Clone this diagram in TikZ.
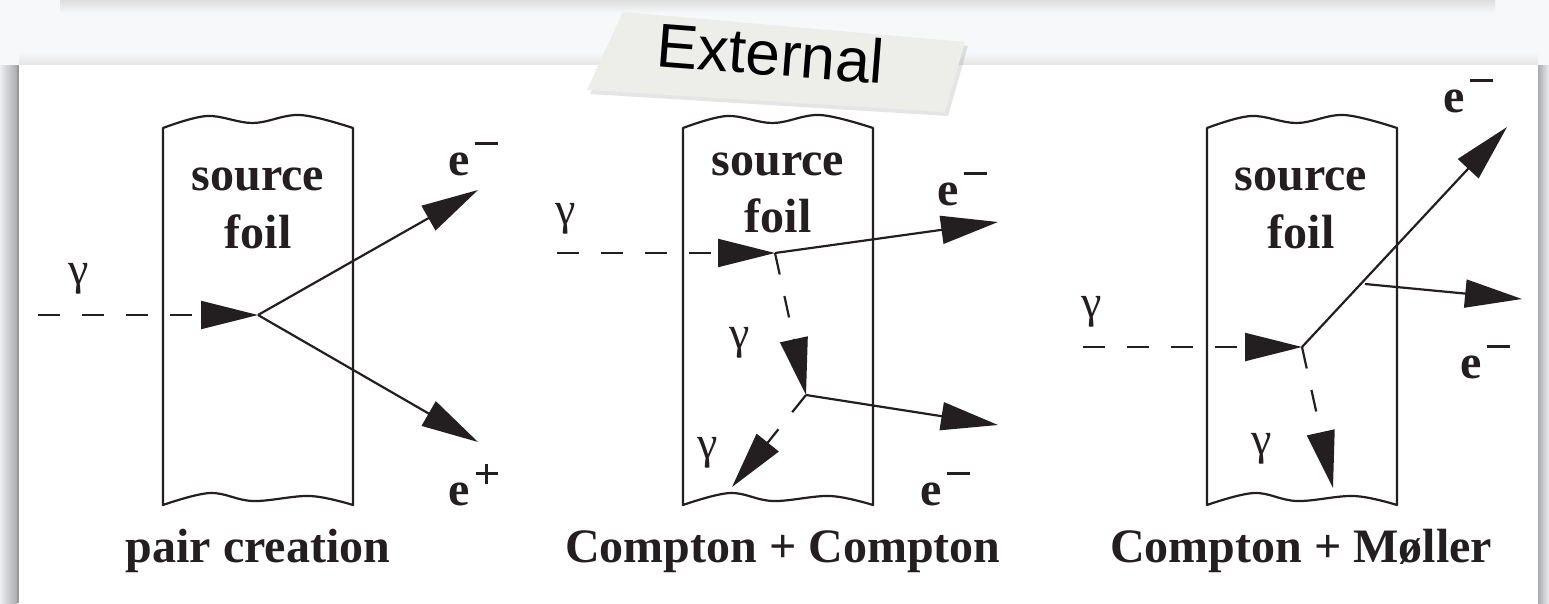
\documentclass[tikz,border=0pt]{standalone}
\usepackage{fontspec}
\setmainfont{Liberation Serif}
\newfontfamily\arialfont{Liberation Sans}
\usetikzlibrary{arrows.meta}
\definecolor{ink}{HTML}{231F20}
\definecolor{pagebg}{HTML}{F7F8FA}
\definecolor{tagfill}{HTML}{EDEDE9}
\definecolor{shadowdark}{HTML}{A9ABAE}
\definecolor{shadowlight}{HTML}{ECEEF0}
\newcommand{\eminus}{\textbf{e}\kern5pt\raisebox{30pt}{\rule{23pt}{2.8pt}}}
\newcommand{\eplus}{\textbf{e}\kern6pt\raisebox{30pt}{\rule{22pt}{2.6pt}}\kern-12.3pt\raisebox{21pt}{\rule{2.6pt}{20pt}}\kern9.7pt}
\tikzset{
  lbl/.style={font=\fontsize{48pt}{58pt}\selectfont\bfseries, text=ink, inner sep=0pt, anchor=base},
  gam/.style={font=\fontsize{46pt}{50pt}\selectfont, text=ink, inner sep=0pt, anchor=base},
  elab/.style={font=\fontsize{48pt}{58pt}\selectfont, text=ink, inner sep=0pt, anchor=base west},
  foilline/.style={draw=ink, line width=2.2pt, line join=round},
  particle/.style={draw=ink, line width=2.2pt, -{Triangle[length=57pt,width=28pt]}},
  photon/.style={particle, dash pattern=on 22pt off 22pt},
  foilpic/.pic={
    \draw[foilline] (0,0) -- (0,377)
      -- plot[smooth, tension=0.6] coordinates {(0,377) (47,365) (90,373) (147,368) (190,377)}
      -- (190,0)
      -- plot[smooth, tension=0.6] coordinates {(190,0) (137,-13) (90,-5) (44,-12) (0,0)}
      -- cycle;
  }
}
\begin{document}
\begin{tikzpicture}[x=1pt,y=-1pt]
\useasboundingbox (0,0) rectangle (1549,603);
% page background and card shadows
\fill[pagebg] (0,0) rectangle (1549,603);
\shade[top color=black!13, bottom color=pagebg] (60,0) rectangle (1495,13);
\shade[top color=pagebg, bottom color=black!10] (19,52) rectangle (1538,65);
\shade[left color=shadowlight, right color=shadowdark] (0,65) rectangle (17,603);
\fill[black!40] (17,65) rectangle (19,603);
\shade[left color=shadowdark, right color=shadowlight] (1538,65) rectangle (1549,603);
\fill[white] (19,65) rectangle (1538,603);
% tag
\fill[black, opacity=0.10] (626,16) -- (968,46) -- (948,116) -- (590,94) -- cycle;
\fill[tagfill] (623,12) -- (965,42) -- (945,112) -- (587,90) -- cycle;
\node[font=\arialfont\fontsize{62pt}{62pt}\selectfont, text=black, inner sep=0pt, anchor=base, rotate=-4.5] (ext) at (769,75) {External};

% ---------- panel 1: pair creation ----------
\pic at (163,128) {foilpic};
\node[lbl] (src1) at (258,190) {source};
\node[lbl] (foil1) at (258,248) {foil};
\node[lbl] (cap1) at (258,562) {pair creation};
\coordinate (g1s) at (38,315);
\coordinate (v1) at (258,315);
\coordinate (e1a) at (478,190);
\coordinate (e1b) at (478,442);
\draw[photon] (g1s) -- (v1);
\draw[particle] (v1) -- (e1a);
\draw[particle] (v1) -- (e1b);
\node[gam] (gam1) at (79,284) {γ};
\node[elab] (em1) at (448,175) {\eminus};
\node[elab] (ep1) at (448,505) {\eplus};

% ---------- panel 2: Compton + Compton ----------
\pic at (683,128) {foilpic};
\node[lbl] (src2) at (778,175) {source};
\node[lbl] (foil2) at (778,232) {foil};
\node[lbl] (cap2) at (783,562) {Compton + Compton};
\coordinate (g2s) at (557,253);
\coordinate (v2) at (775,253);
\coordinate (e2a) at (998,222);
\coordinate (v3) at (806,395);
\coordinate (e2b) at (998,425);
\coordinate (g2e) at (732,487);
\draw[photon] (g2s) -- (v2);
\draw[particle] (v2) -- (e2a);
\draw[photon] (v2) -- (v3);
\draw[particle] (v3) -- (e2b);
\draw[photon] (v3) -- (g2e);
\node[gam] (gam2a) at (566,224) {γ};
\node[gam] (gam2b) at (740,348) {γ};
\node[gam] (gam2c) at (708,458) {γ};
\node[elab] (em2a) at (937,205) {\eminus};
\node[elab] (em2b) at (920,505) {\eminus};

% ---------- panel 3: Compton + Moller ----------
\pic at (1207,128) {foilpic};
\node[lbl] (src3) at (1301,190) {source};
\node[lbl] (foil3) at (1301,248) {foil};
\node[lbl] (cap3) at (1301,562) {Compton + Møller};
\coordinate (g3s) at (1083,347);
\coordinate (v4) at (1302,347);
\coordinate (e3a) at (1507,127);
\coordinate (m3s) at (1365,284);
\coordinate (e3b) at (1522,299);
\coordinate (g3e) at (1333,488);
\draw[photon] (g3s) -- (v4);
\draw[particle] (v4) -- (e3a);
\draw[particle] (m3s) -- (e3b);
\draw[photon] (v4) -- (g3e);
\node[gam] (gam3a) at (1092,317) {γ};
\node[gam] (gam3b) at (1262,454) {γ};
\node[elab] (em3a) at (1443,112) {\eminus};
\node[elab] (em3b) at (1460,378) {\eminus};
\end{tikzpicture}
\end{document}
